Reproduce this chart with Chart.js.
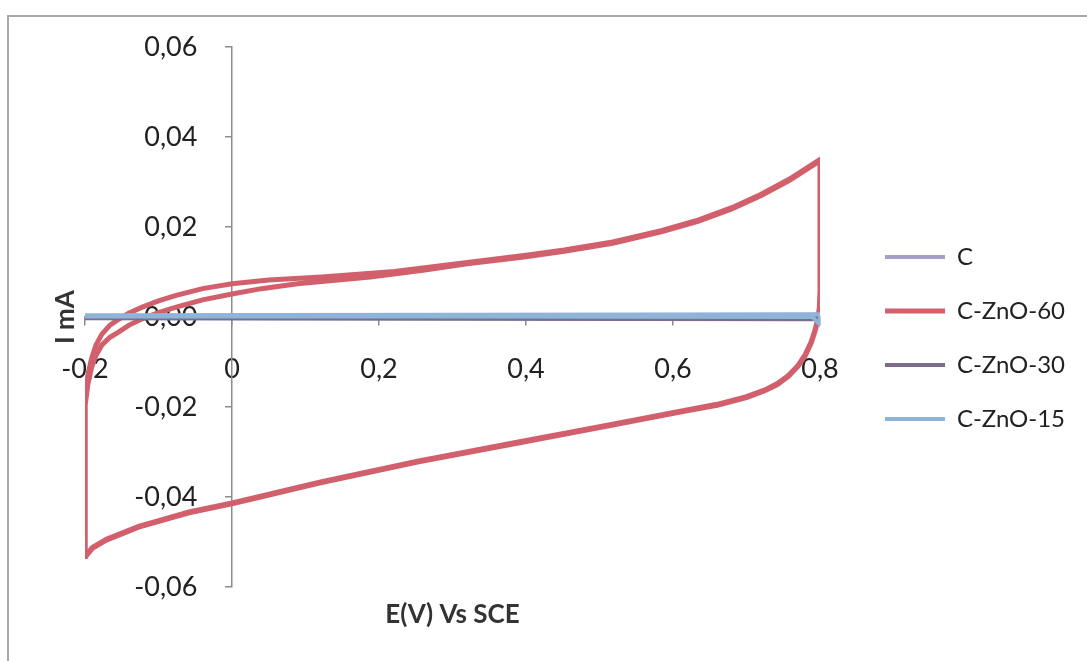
<!DOCTYPE html>
<html>
<head>
<meta charset="utf-8">
<script src="https://cdn.jsdelivr.net/npm/chart.js@4.4.0/dist/chart.umd.min.js"></script>
<style>
  html, body { margin: 0; padding: 0; background: #fff; overflow: hidden; }
  #frame { position: absolute; left: 7px; top: 15px; width: 1200px; height: 800px;
           border-top: 2px solid #a9a9a9; border-left: 2px solid #a9a9a9; }
  #wrap { position: absolute; left: 0; top: 0; width: 1087px; height: 661px; }
</style>
</head>
<body>
<div id="frame"></div>
<div id="wrap"><canvas id="cv"></canvas></div>
<script>
// E (V vs SCE) and I (mA). C-ZnO-60 has two cycles.
const znO60E1 = [-0.2, -0.2, -0.2, -0.199, -0.196, -0.191, -0.185, -0.177, -0.166, -0.155,
  -0.14, -0.122, -0.1, -0.076, -0.04, 0, 0.05, 0.122, 0.221, 0.32,
  0.4, 0.452, 0.518, 0.584, 0.635, 0.68, 0.72, 0.758, 0.8,
  0.8, 0.8, 0.799, 0.797, 0.793, 0.788, 0.78, 0.77, 0.757, 0.742,
  0.725, 0.7, 0.66, 0.617, 0.518, 0.386, 0.254, 0.122, 0, -0.0585,
  -0.127, -0.171, -0.19, -0.2];
const znO60I1 = [-0.0532, -0.035, -0.024, -0.0175, -0.0128, -0.0092, -0.0062, -0.0038, -0.0018, -0.0006,
  0.0009, 0.0022, 0.0036, 0.0048, 0.0063, 0.0074, 0.0082, 0.0089, 0.0101, 0.0121,
  0.0137, 0.0149, 0.0167, 0.0192, 0.0216, 0.0243, 0.0273, 0.0306, 0.035,
  0.02, 0.006, 0.002, -0.0005, -0.003, -0.0055, -0.0083, -0.0108, -0.013, -0.0148,
  -0.0162, -0.0177, -0.0194, -0.0207, -0.0238, -0.0279, -0.032, -0.0366, -0.0413, -0.0433,
  -0.0465, -0.0494, -0.0512, -0.0532];
const znO60E2 = [-0.2, -0.2, -0.199, -0.196, -0.191, -0.185, -0.177, -0.166, -0.155, -0.14,
  -0.122, -0.1, -0.076, -0.04, 0, 0.04, 0.089, 0.188, 0.26, 0.32,
  0.4, 0.452, 0.518, 0.584, 0.635, 0.68, 0.72, 0.758, 0.8,
  0.8, 0.8, 0.799, 0.797, 0.793, 0.788, 0.78, 0.77, 0.757, 0.742,
  0.725, 0.7, 0.66, 0.617, 0.518, 0.386, 0.254, 0.122, 0, -0.0585,
  -0.127, -0.171, -0.19, -0.2];
const znO60I2 = [-0.053, -0.03, -0.0195, -0.0148, -0.0112, -0.0085, -0.0062, -0.0045, -0.0034, -0.0018,
  -0.0004, 0.001, 0.0022, 0.0038, 0.0051, 0.0063, 0.0074, 0.0089, 0.0104, 0.0118,
  0.0134, 0.0146, 0.0164, 0.0189, 0.0213, 0.024, 0.027, 0.0303, 0.0347,
  0.02, 0.006, 0.0018, -0.0008, -0.0033, -0.0058, -0.0086, -0.011, -0.0132, -0.015,
  -0.0164, -0.0179, -0.0196, -0.0209, -0.024, -0.0281, -0.0322, -0.0368, -0.0415, -0.0435,
  -0.0467, -0.0496, -0.0514, -0.0534];

const cE = [-0.2, 0.3, 0.8, 0.8, 0.3, -0.2, -0.2];
const cI = [0.0002, 0.0003, 0.0005, -0.0004, -0.0003, -0.0002, 0.0002];
const znO30E = [-0.2, 0.3, 0.8, 0.8, 0.3, -0.2, -0.2];
const znO30I = [0.0001, 0.0002, 0.0004, -0.0005, -0.0004, -0.0003, 0.0001];
const znO15E = [-0.2, 0.3, 0.8, 0.8, 0.79, 0.3, -0.2, -0.2];
const znO15I = [0.0004, 0.0005, 0.0006, -0.0017, 0.0, 0.0001, 0.0001, 0.0004];

const xTicks = [-0.2, 0, 0.2, 0.4, 0.6, 0.8];
const yTicks = [-0.06, -0.04, -0.02, 0, 0.02, 0.04, 0.06];

const pts = (e, i) => e.map((x, k) => ({ x: x, y: i[k] }));
const txt = '#222';
const axisGrey = '#8c8c8c';

// Excel's legend sits a bit right of / below where Chart.js puts it;
// widen its box to the canvas edge so the clip doesn't cut the labels
const legendShift = {
  id: 'legendShift',
  afterLayout(chart) {
    const lg = chart.legend;
    lg.left += 35;
    lg.right = chart.width;
    lg.width = lg.right - lg.left;
    lg.top += 21; lg.bottom += 21;
  }
};

// datasets listed last-to-first so C-ZnO-15 is painted on top, legend reversed back
new Chart(document.getElementById('cv'), {
  type: 'line',
  data: {
    datasets: [
      { label: 'C-ZnO-15', data: pts(znO15E, znO15I), borderColor: '#8fb4d9', backgroundColor: '#8fb4d9', borderWidth: 4 },
      { label: 'C-ZnO-30', data: pts(znO30E, znO30I), borderColor: '#7d6d8a', backgroundColor: '#7d6d8a', borderWidth: 4 },
      { label: 'C-ZnO-60', data: pts(znO60E1.concat(znO60E2), znO60I1.concat(znO60I2)), borderColor: '#d2606c', backgroundColor: '#d2606c', borderWidth: 5 },
      { label: 'C', data: pts(cE, cI), borderColor: '#a6a0c8', backgroundColor: '#a6a0c8', borderWidth: 4 }
    ]
  },
  options: {
    responsive: true,
    maintainAspectRatio: false,
    animation: false,
    layout: { padding: { top: 47, right: 103, bottom: 0, left: 0 } },
    elements: { point: { radius: 0 }, line: { tension: 0 } },
    scales: {
      x: {
        type: 'linear', min: -0.2, max: 0.8,
        position: { y: 0 },
        border: { color: axisGrey, width: 1.5 },
        grid: { drawOnChartArea: false, color: axisGrey, tickLength: 8, lineWidth: 1.5 },
        afterBuildTicks: s => { s.ticks = xTicks.map(v => ({ value: v })); },
        ticks: {
          padding: 28, color: txt, font: { family: 'Lato', size: 27 },
          maxRotation: 0, autoSkip: false,
          callback: v => String(Math.round(v * 10) / 10).replace('.', ',')
        }
      },
      y: {
        type: 'linear', min: -0.06, max: 0.06,
        position: { x: 0 },
        border: { color: axisGrey, width: 1.5 },
        grid: { drawOnChartArea: false, color: axisGrey, tickLength: 6, lineWidth: 1.5 },
        afterBuildTicks: s => { s.ticks = yTicks.map(v => ({ value: v })); },
        ticks: {
          color: txt, font: { family: 'Lato', size: 27 },
          // centred axes ignore ticks.padding, so trailing spaces keep the labels off the line
          callback: v => { const r = Math.round(v * 100) / 100; return (r === 0 ? 0 : r).toFixed(2).replace('.', ',') + '     '; }
        }
      }
    },
    plugins: {
      legend: {
        position: 'right', fullSize: false, reverse: true,
        labels: { boxWidth: 60, boxHeight: 0, padding: 30, color: txt, font: { family: 'Lato', size: 24 } }
      },
      title: {
        display: true, position: 'bottom', fullSize: false, text: 'E(V) Vs SCE', color: '#333',
        font: { family: 'Lato', size: 26, weight: 'bold' }, padding: { top: 12.4, bottom: 30.4 }
      },
      subtitle: {
        display: true, position: 'left', fullSize: false, text: 'I mA', color: '#333',
        font: { family: 'Lato', size: 26, weight: 'bold' }, padding: { top: 50.4, bottom: 3.4 }
      },
      tooltip: { enabled: false }
    }
  },
  plugins: [legendShift]
});
</script>
</body>
</html>
